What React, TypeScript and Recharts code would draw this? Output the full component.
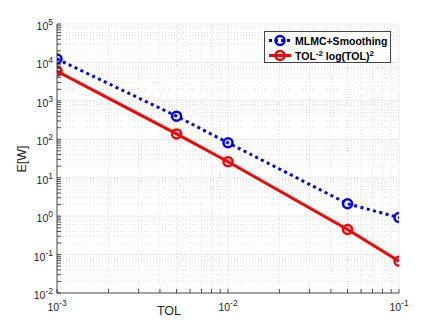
import { LineChart, Line, XAxis, YAxis, ReferenceLine, Legend } from 'recharts';

const tol = [0.001, 0.005, 0.01, 0.05, 0.1];
const mlmcSmoothing = [12300, 400, 81, 2.1, 0.92];
const tolRate = [5900, 138, 26, 0.45, 0.067];

const xMajor = [0.001, 0.01, 0.1];
const yMajor = [0.01, 0.1, 1, 10, 100, 1000, 10000, 100000];
const minorSteps = [2, 3, 4, 5, 6, 7, 8, 9];

const minorsOf = (majors: number[]) =>
  majors.slice(0, -1).flatMap((d) => minorSteps.map((m) => +(d * m).toPrecision(3)));

const xMinor = minorsOf(xMajor);
const yMinor = minorsOf(yMajor);

const data = tol.map((t, i) => ({ tol: t, mlmc: mlmcSmoothing[i], rate: tolRate[i] }));

const FONT = '"Liberation Sans", Arial, Helvetica, sans-serif';
const INK = '#262626';
const TICK = 4;

const isMajor = (v: number) => Math.abs(Math.log10(v) - Math.round(Math.log10(v))) < 1e-6;

function Pow({ x, y, v, anchor }: { x: number; y: number; v: number; anchor: 'start' | 'middle' | 'end' }) {
  const e = Math.round(Math.log10(v));
  return (
    <text x={x} y={y} textAnchor={anchor} fontFamily={FONT} fontSize={10.5} fill={INK}>
      <tspan>10</tspan>
      <tspan dy={-5} fontSize={8.5}>{e}</tspan>
    </text>
  );
}

function BottomTick(props: any) {
  const { x, y, payload } = props;
  const v = payload.value;
  return (
    <g>
      <line x1={x} y1={y} x2={x} y2={y - TICK} stroke={INK} strokeWidth={0.8} />
      {isMajor(v) && <Pow x={x} y={y + 18} v={v} anchor="middle" />}
    </g>
  );
}

function TopTick(props: any) {
  const { x, y } = props;
  return <line x1={x} y1={y} x2={x} y2={y + TICK} stroke={INK} strokeWidth={0.8} />;
}

function LeftTick(props: any) {
  const { x, y, payload } = props;
  const v = payload.value;
  return (
    <g>
      <line x1={x} y1={y} x2={x + TICK} y2={y} stroke={INK} strokeWidth={0.8} />
      {isMajor(v) && <Pow x={x - 4} y={y + 6} v={v} anchor="end" />}
    </g>
  );
}

function RightTick(props: any) {
  const { x, y } = props;
  return <line x1={x} y1={y} x2={x - TICK} y2={y} stroke={INK} strokeWidth={0.8} />;
}

const markerFor = (color: string) => (p: any) => (
  <circle key={`m-${p.index}`} cx={p.cx} cy={p.cy} r={4.5} fill="none" stroke={color} strokeWidth={2.5} />
);

function LegendBox() {
  const rows = [
    { color: '#0000ff', dash: '3 3', label: <tspan>MLMC+Smoothing</tspan> },
    {
      color: '#ff0000',
      dash: undefined,
      label: (
        <>
          <tspan>TOL</tspan>
          <tspan dy={-4} fontSize={8}>-2</tspan>
          <tspan dy={4}> log(TOL)</tspan>
          <tspan dy={-4} fontSize={8}>2</tspan>
        </>
      ),
    },
  ];
  return (
    <div style={{ width: 127, height: 32, border: '1px solid #444', background: '#fff', boxSizing: 'border-box' }}>
      <svg width={125} height={30}>
        {rows.map((r, i) => {
          const cy = 8.5 + i * 15;
          return (
            <g key={i}>
              <line x1={4} y1={cy} x2={26} y2={cy} stroke={r.color} strokeWidth={3} strokeDasharray={r.dash} />
              <circle cx={15} cy={cy} r={4.5} fill="none" stroke={r.color} strokeWidth={2.5} />
              <text x={30} y={cy + 4} fontFamily={FONT} fontSize={10.5} fontWeight="bold" fill="#000">
                {r.label}
              </text>
            </g>
          );
        })}
      </svg>
    </div>
  );
}

export default function App() {
  const xTicks = [...xMajor, ...xMinor];
  const yTicks = [...yMajor, ...yMinor];
  return (
    <div style={{ position: 'absolute', left: 0, top: 0, width: 440, height: 330, background: '#fff' }}>
      <LineChart width={440} height={330} data={data} margin={{ top: 24, right: 41, bottom: 7, left: 7 }}>
        <XAxis
          dataKey="tol"
          type="number"
          scale="log"
          domain={[0.001, 0.1]}
          allowDataOverflow
          ticks={xTicks}
          interval={0}
          tickSize={0}
          tickMargin={0}
          tickLine={false}
          tick={<BottomTick />}
          height={30}
          axisLine={{ stroke: INK, strokeWidth: 0.8 }}
          label={{
            content: () => (
              <text x={169} y={315} textAnchor="middle" fontFamily={FONT} fontSize={12.5} fill={INK}>
                TOL
              </text>
            ),
          }}
        />
        <XAxis
          xAxisId="top"
          orientation="top"
          dataKey="tol"
          type="number"
          scale="log"
          domain={[0.001, 0.1]}
          allowDataOverflow
          ticks={xTicks}
          interval={0}
          tickSize={0}
          tickMargin={0}
          tickLine={false}
          tick={<TopTick />}
          height={0}
          axisLine={{ stroke: INK, strokeWidth: 0.8 }}
        />
        <YAxis
          type="number"
          scale="log"
          domain={[0.01, 100000]}
          allowDataOverflow
          ticks={yTicks}
          interval={0}
          tickSize={0}
          tickMargin={0}
          tickLine={false}
          tick={<LeftTick />}
          width={50}
          axisLine={{ stroke: INK, strokeWidth: 0.8 }}
          label={{
            content: () => (
              <text
                x={22}
                y={159}
                transform="rotate(-90 22 159)"
                textAnchor="middle"
                dominantBaseline="central"
                fontFamily={FONT}
                fontSize={12.5}
                fill={INK}
              >
                E[W]
              </text>
            ),
          }}
        />
        <YAxis
          yAxisId="right"
          orientation="right"
          type="number"
          scale="log"
          domain={[0.01, 100000]}
          allowDataOverflow
          ticks={yTicks}
          interval={0}
          tickSize={0}
          tickMargin={0}
          tickLine={false}
          tick={<RightTick />}
          width={0}
          axisLine={{ stroke: INK, strokeWidth: 0.8 }}
        />
        {xMinor.map((v) => (
          <ReferenceLine key={`xm${v}`} x={v} stroke="#d6d6d6" strokeWidth={0.6} strokeDasharray="1 2" />
        ))}
        {yMinor.map((v) => (
          <ReferenceLine key={`ym${v}`} y={v} stroke="#d6d6d6" strokeWidth={0.6} strokeDasharray="1 2" />
        ))}
        {xMajor.map((v) => (
          <ReferenceLine key={`xM${v}`} x={v} stroke="#e4e4e4" strokeWidth={0.8} />
        ))}
        {yMajor.map((v) => (
          <ReferenceLine key={`yM${v}`} y={v} stroke="#e4e4e4" strokeWidth={0.8} />
        ))}
        <Line
          dataKey="mlmc"
          name="MLMC+Smoothing"
          stroke="#0000ff"
          strokeWidth={3}
          strokeDasharray="3 3.5"
          dot={markerFor('#0000ff')}
          isAnimationActive={false}
        />
        <Line
          dataKey="rate"
          name="TOL^-2 log(TOL)^2"
          stroke="#ff0000"
          strokeWidth={3}
          dot={markerFor('#ff0000')}
          isAnimationActive={false}
        />
        <Legend
          layout="vertical"
          align="center"
          verticalAlign="middle"
          content={() => <LegendBox />}
          wrapperStyle={{ left: 264, top: 31, width: 127, height: 32 }}
        />
      </LineChart>
    </div>
  );
}
